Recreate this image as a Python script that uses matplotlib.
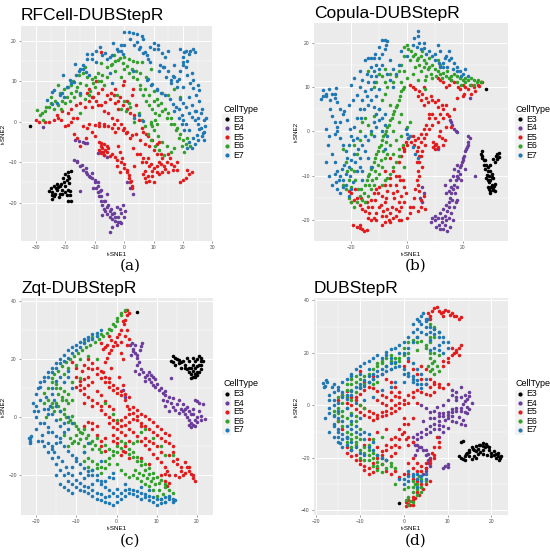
import numpy as np
import matplotlib
matplotlib.use("Agg")
import matplotlib.pyplot as plt
from matplotlib.lines import Line2D
from matplotlib.patches import Rectangle

plt.rcParams['font.family'] = ['Liberation Sans', 'DejaVu Sans']

cell_types = ["E3", "E4", "E5", "E6", "E7"]
colors = {"E3": "#000000", "E4": "#6A3D9A", "E5": "#E31A1C", "E6": "#33A02C", "E7": "#1F78B4"}
titles = ["RFCell-DUBStepR", "Copula-DUBStepR", "Zqt-DUBStepR", "DUBStepR"]
panel_labels = ["(a)", "(b)", "(c)", "(d)"]

# ---------------- Panel (a) ----------------
A_E3 = [(-32.2,-1.2),(-25,-16.5),(-24.5,-17.5),(-24,-16),(-23.5,-18),(-23,-17),(-22.5,-16.2),(-22,-17.8),
        (-21.5,-15.5),(-21,-16.8),(-20.5,-15),(-20,-16),(-19.5,-14.5),(-19,-13.5),(-19,-12.5),(-18.8,-14),
        (-23.8,-18.5),(-24.6,-19.2),(-22.8,-15.3),(-21.8,-16),(-18.5,-17.2),(-18.3,-18.2),(-19,-19.5),
        (-18,-19.5),(-20,-17.3),
        (-24.5,-18.2),(-23.2,-16.5),(-22.2,-18.6),(-21,-17.8),(-20.8,-14),(-20,-13),(-19.5,-18.2),(-19.2,-17),
        (-25.5,-17.2),(-18.8,-15.2),(-18.2,-12.2)]
A_E4 = [(-17,-9.5),(-16,-10),(-15,-11),(-14,-12),(-13,-12.5),(-12,-13.5),(-11,-14),(-10,-15),(-9.5,-16.5),
        (-9,-17.5),(-8.5,-18.5),(-8,-19.5),(-7.5,-20.5),(-7,-21.5),(-6.5,-22),(-6,-22.8),(-5,-23.5),(-4,-24),
        (-3,-24.5),(-2,-23.5),(-1,-22.5),(0,-23.5),(0.2,-22),(-4.9,-27.2),(-16.7,-4.6),(-15.5,-4.8),(-14,-5),
        (-12.8,-5.4),(-27.5,-1.3),(-8,-7.5),(-7,-8.2),(-6,-8.7),(1,-15),(2,-16.5),(3,-18),(-15,-17.2),
        (-13,-11.5),(-11,-12.8),(-9,-15),(-8,-17),(-6.5,-19.5),(-5.5,-20.5),(-4.5,-21.5),(-3.5,-22.5),
        (-2.5,-21),(-7.5,-23),(-2.5,-25.5),(-1.5,-24.8),(-6,-18),(-10.5,-16.5),
        (-16,-9.8),(-14.5,-10.8),(-12.5,-13),(-11.5,-13.8),(-10,-14.5),(-9,-16),(-8.3,-17.2),(-7.8,-18.3),
        (-7,-19.5),(-6,-21),(-5,-22),(-4,-22.8),(-3,-23.5),(-2,-24.8),(-1,-25),(-0.5,-20.5),(-1.5,-21.5),
        (-4,-26),(-13.5,-5.2),(-9,-7.8)]
A_E5 = [(-30,0.5),(-29,0),(-27,-0.2),(-25.5,0),(-24,0.5),(-22.5,1),(-21,2.5),(-19,2),(-20,-1),
        (-18,3),(-16.5,4),(-15,4.5),(-13.5,3.5),(-12,5),(-10.5,6),(-9,7),(-7.5,8),(-6,6.5),(-4.5,7),(-3,8),
        (-11,3.5),(-9,4),(-7,2.5),(-5.5,2),(-4,1),(-2.5,0.5),(-1,-0.5),(0,-1.5),(-14,-1),(-12.5,-1.5),
        (-11,-2.5),(-10,-3.5),(-13,-4),(-8.5,-1),(-7,-0.5),(-5.5,-1),(-4,-1.5),(-3,-2.5),(-8,-6),(-7.5,-6.5),
        (-7,-5.5),(-6.5,-7),(-6,-6),(-8.5,-7),(-5,-8.5),(-4,-8),(-3,-8.8),(-2.5,-9.5),(-1,-10),(0,-11.5),
        (1,-12.5),(1.5,-14),(2,-15),(2.5,-16.5),(-15,-6),(-16,-4),(-17,-3),
        (2,2),(3.5,1.5),(5,0.5),(6,-1.5),(4,-3),(5.5,-4.5),(7,-5.5),(8.5,-6),(10,-7),(11,-8),(8,-9),(9,-10.5),
        (10,-11.5),(11,-12.5),(12,-10),(13.5,-11),(14.5,-10),(15.5,-9),(16,-10.5),(17,-11),(18,-12),
        (6.5,-13),(7,-14),(7.5,-15),(8.5,-14.8),(9.5,-13.5),(10,-15),(12,-13),(13,-12.5),(19,-15),
        (20,-14.5),(21,-14),(22,-13),(23,-12.5),(21.5,-12),(3,-6.5),(2,-4),(0.5,-2.8),(-2,3),(-3,4.5),
        (1,5),(2.5,6.5),(-0.5,9),(-1.5,6),(4,4),(3,8),(-7.9,17.2),(0,10),(-18,0),(-16,1),(-9.5,10),
        (-12,8),(4.5,-8),(6,-10),(3.5,-11),(12.5,-8),(7.5,-3),
        (-23,1.6),(-21.5,0.5),(-19,-0.8),(-17.5,0.8),(-12.5,7),(-11,6),(-9.5,5.2),(-8,4),(-6.5,4.8),(-5,5.5),
        (-3.5,6.5),(-2,5),(-0.5,4),(1,3),(-12,-0.5),(-10,-0.8),(-8.5,-0.3),(-7,-1.2),(-8.7,-5),(-7.8,-5.3),
        (-7.2,-7.5),(-6,-7.6),(-5.5,-6.5),(-6.8,-8.2),(-8,-7.8),(-2,-6),(-1.5,-7.5),(-0.8,-9),(0,-10.5),
        (0.8,-12),(1.5,-13.2),(2.2,-14.8),(2.8,-16),(-2.5,-11),(-1.5,-12.5),(5.5,-8),(6.5,-9),(7.5,-10),
        (8.5,-11),(9.5,-12.2),(11,-11),(12.5,-10.5),(14,-11.8),(15,-12.5),(16.5,-12),(18,-10),(7,-12.2),
        (8,-13.5),(13,-9),(15,-8),(6.5,-2.5),(8,-3.5),(9.5,-4.5),(11,-5.5),(12,-5),(-3.5,-0.5),(-2,-1.5),
        (-0.5,-2),(1,-2.5),(2.5,-3.2)]
A_E6 = [(-29.7,2.8),(-28,2),(-26.5,3.5),(-25,4.5),(-27.5,0.5),(-25,6),(-23.5,5),(-22,7),(-20.5,8),(-19,8.5),
        (-18,7),(-17,6),(-16,8.5),(-15,9.5),(-20,4.5),(-21.5,3),(-15.5,11.5),(-14,12),(-12.5,11),(-11,10.5),
        (-10,11),(-9,12),(-8,10),(-7,9),(-10,8.5),(-11.5,7.5),(-13,9),(-6,13.5),(-4.5,14),(-3,15),(-1.5,15.7),
        (0,16),(1.5,15.5),(3,15),(4.5,14.8),(6,14.7),(0,13),(1.5,12),(3,11),(4.5,10.5),(-1,11),(-3,12.5),
        (5.5,8),(6.5,6.5),(7.5,5),(8.5,4),(9.5,3),(10.5,2),(11,5.5),(12.5,4.5),(14,3),(15,2),(16,1),(17,-0.5),
        (18,-1.5),(19,-3),(20,-4.5),(21,-5.5),(13,7),(15,6.5),(17,8),(19,6),(10,7.5),(11,-0.5),(10,-2),
        (11.5,-3.5),(13,-5),(14.5,-6),(16,-7.5),(17,-6.5),(5,2),(6,0.5),(3.5,0),(9,0),(9.5,-1),(-2.5,6.5),
        (0,5),(1.5,4.5),(-15,2),(-17.5,10),(-13.5,13.5),(-8,14.5),(7.5,11),(9,13),(-22.5,9),
        (-18,9),(-16.5,7.5),(-15,6.5),(-13.5,5.5),(-12,6.5),(-10.5,9.5),(-9,10),(-7.5,11.5),(-6,11),
        (-28.5,1.5),(-27,2.5),(-25.5,3.5),(-24,3),(-22.5,4),(-21,5),(-19.5,6),(-18.5,5),(-3.5,16.5),
        (-2,15.2),(-0.5,14.5),(1,13.8),(2.5,13),(4,12.5),(5.5,12),(-4,14.2),(5.5,9),(7,8),(8.5,6.5),(10,5),
        (11.5,4),(13,2.5),(14.5,1),(16,-0.5),(17.5,-2),(12,1.5),(10.5,0.5),(9,-0.5),(7,-1),(8,-3),(9,-4.5),
        (10.5,-6),(12,-7),(13.5,-8.2),(18.5,-4),(19.5,-6),(20.5,-7.5),(21.5,-4),(22.5,-6),(-1,3),(0.5,2.5),
        (2,3.5)]
A_E7 = [(3,21.8),(4.5,21.7),(6,21.2),(6.5,20.3),(4.2,19.7),(5.5,18.5),(7,17.2),(7.6,16.5),(8.7,18.5),(10,18),
        (11.5,17.8),(13,17),(14,16),(-3.7,19.3),(-2.5,18),(-1,17.5),(-0.3,16.8),(-8.2,18.4),(-6.5,17),(-5,16),
        (-12.8,16.8),(-11,15.5),(-9.5,14.8),(-16.7,14.3),(-15,13),(-13,12.3),(-20.7,11.5),(-18.5,10.3),
        (-17,9.8),(-24,7.7),(-22,6.5),(-20.5,6),(-26.3,5.3),(-24.5,4.3),(-14,13),(-12,11.5),(19,18),(21,17.5),
        (22.5,17.5),(24,17.3),(20,16),(21.5,15),(20,14),(19,12.5),(13.2,13.5),(15,12.5),(17,11),(18.8,10.5),
        (16,10.3),(14.3,11),(16,9.5),(18,8.5),(20,8.6),(23.4,10.2),(25,9),(25.6,7.8),(7.6,10.2),(9,9),(11,8),
        (12.5,7),(14,6.5),(15.5,5.5),(16.5,4.3),(17.5,3.5),(19,5.5),(20,4.5),(21,3.5),(22,2),(23,1.2),
        (24,0.5),(25,-0.5),(26,-1.5),(27,-2.5),(26.5,-3.5),(25,-4.5),(24,-5.5),(23,-6.5),(22,-2),(21,-0.5),
        (20,0.5),(19.5,1.5),(18.5,3),(24.5,2.5),(26,2),(27,0.5),(25.5,-1.8),(27,-4.6),(3,12.5),(-5,12),
        (-4,9.5),(-15,7),(-24.6,7.3),(0,19),(2,20.5),(17,14),(23,12),(12,12.5),
        (0,22),(1.5,22.2),(3.2,18.9),(5,18),(6.5,17),(8,15.5),(8.8,14.8),(10,19.3),(11.5,19),(14.8,17.5),
        (20.5,17.2),(22,16.8),(23.5,17.8),(20,14.8),(21,13.5),(12.2,14),(13.5,13.5),(16.5,11.2),(17.8,9.9),
        (21.5,11.5),(22.5,9.5),(23.5,8.2),(24.5,6.5),(25.5,5),(26.5,3.2),(22,6),(23,4),(24,2.5),(25,1),
        (27.5,-1),(27.8,0.8),(26.8,-2.8),(24.8,-3.2),(23.5,-4),(22.2,-5),(21.5,-6.5),(8,10.5),(9.5,9.2),
        (11,7.8),(17,2.5),(18.5,1),(19.5,-0.5),(20.5,-2),(-23,4.5),(-21,7),(-19.5,8.5),(-18,9.5),(-16.5,11.5),
        (-15.5,12.5),(-14,14),(-12.5,15.5),(-11,16.8),(-9.5,17.5),(-7.5,16.5),(-6,15.5),(-4,16.5),(-2,17.5),
        (-1,19),(3.5,0.8),(5,1.5),(6.5,0.2)]

# ---------------- Panel (b) ----------------
B_E3 = [(26.5,-5),(27,-6),(27.5,-7.5),(28,-8.5),(29,-9),(29.5,-10),(30,-11),(30.5,-12),(31,-13),(30,-13.5),
        (29,-12.5),(29.5,-11.5),(31,-10.5),(31.5,-11.8),(28.5,-10.5),(30,-7.5),(31,-6.3),(32,-5.5),(33,-4.8),
        (32.5,-6.2),(28,-6.5),(27,-5.5),(31.5,-13.5),(28.4,9.5),(30.5,-9.5),(29.5,-13),
        (26.8,-4.5),(27.5,-6.5),(28.5,-7.5),(29,-8),(29.8,-9),(30.5,-10.3),(31.2,-12.2),(30.8,-13.2),
        (30.2,-12.5),(29.2,-11),(28.8,-9.8),(31.8,-7),(32.5,-5),(33.2,-5.8),(30,-14)]
B_E4 = [(22.5,-1.5),(22,-2.5),(21.5,-3.5),(21,-4.5),(20.5,-5.5),(20,-6.5),(19.5,-7.5),(19,-8),(18.5,-9),
        (18,-10),(17.5,-11),(17,-12),(16.5,-13),(16,-14),(15.5,-15),(15,-16),(14,-16.5),(13,-17.5),(12,-18.5),
        (11,-19.5),(10,-20),(9,-19.5),(12.5,-20.5),(13.5,-21),(14.5,-22.5),(15.5,-21.5),(16.5,-20),(17,-17),
        (18,-15.5),(19.5,-11),(21,-8.5),(15.5,-11),(16.5,-10),(17,-8.5),(15,-13.5),(14,-14),(13.5,-12),
        (24.5,-10),(15.5,2.5),(16.3,1.5),(17,0.5),(18,-0.2),(22.7,7.4),(11.3,-3.9),(5.5,-12.5),(6,-14),
        (5.3,-16),(4.8,-15),(10.5,-21.5),(12,-22),
        (21.8,-3),(21.2,-4),(20.2,-6),(19.8,-7),(19,-9.5),(18.5,-10.5),(17.8,-12.5),(17.2,-14),(16.2,-15.5),
        (15.2,-17),(14.5,-18),(13.5,-19),(12.5,-19.5),(11.5,-21),(13,-22),(14,-20),(16,-18.5),(17.5,-16),
        (15,-19.5),(16,-12.5),(18,-7.5),(10,-19),(8.5,-20.5),(15.8,2),(17.5,0),(22,-1)]
B_E5 = [(11,12),(13,11),(15,10.5),(17,11),(18.5,10),(20,10.5),(22,9.5),(24,10),(25.5,10.5),(27,11),(26,10.2),
        (23,8.5),(1,10.5),(3,9.5),(4.5,9),(6,10),(5,7),(7,7.5),(8.5,8),(10,6.5),(11,5.5),(12,4),(13,5),(14,6),
        (14.5,4),(10,3),(9,1.5),(8,0.5),(7,-0.5),(6,-1.5),(5,-2.5),(4,-3.5),(3.5,-4.5),(2.5,-3),(1.5,-2.5),
        (0.5,-1.5),(-0.5,-2.5),(-1.5,-3.5),(11,2),(12,0),(12.5,-1.5),(13,-3),(10,-3),(9.5,-3.5),(10.5,-2.8),
        (16,1),(15,3.5),(17,5),(-21,-13.5),(-20,-14),(-19,-15.5),(-18,-15),(-17,-16.5),(-16,-17.5),(-15,-18),
        (-14,-17),(-13,-15.5),(-12,-14),(-11,-13),(-10,-12.5),(-9,-14.5),(-8,-16),(-7,-17.5),(-6,-18.5),
        (-5,-19.5),(-4,-19),(-3,-18),(-2,-17),(-1,-16),(-0.5,-14),(-1,-12.5),(-2.5,-11),(-4,-10),(-5,-9),
        (-3,-7),(-2,-5.5),(-1,-4.5),(-6,-12),(-7,-13.5),(-10,-17),(-11,-18.5),(-12,-19.5),(-9,-19),(-8,-20.5),
        (-13,-20),(-4.5,-15),(-3.5,-13.5),(-2,-20),(0,-19.5),(1,-18.5),(2,-17),(2.5,-15),(3,-13),(3.5,-11),
        (4,-9),(4.5,-7),(5,-5.5),(4.5,-13.5),(5,-15.5),(5,-17),(-19.5,-21),(-18,-21.5),(-17,-21),(-16,-22),
        (-15.5,-22.5),(-14.5,-22.3),(-17,-21.8),(20,8),(18,7.5),(8,4),(-6,-6),(-8,-9),
        (12,11.5),(14,10),(16,11.5),(19,9.5),(21,10),(23,10.5),(24.5,9),(26.5,11.2),(20.5,8.5),(2,10),(4,8),
        (5.5,8.5),(6,6),(7.5,6.5),(9,7),(11,7),(12.5,6),(8,3),(9,4),(7,1.5),(6,0.5),(5,-0.5),(4,-1.5),(3,-2),
        (2,-1),(0,-3),(-1,-4),(13.5,-2),(11.5,-1),(14,1),(13,3),(9.5,-2.5),(10,-4),(11,-3.5),(6.5,-3),
        (5.5,-4.5),(4.5,-5.5),(3.5,-7),(-16.5,-15),(-14.5,-16),(-13.5,-18.5),(-12.5,-17),(-11.5,-15.5),
        (-10.5,-14),(-9.5,-16.5),(-8.5,-18),(-7.5,-19),(-6.5,-20),(-5.5,-17),(-4,-17.5),(-3,-16),(-2,-14.5),
        (-1.5,-11),(-3,-10),(-4,-12),(-5,-14),(-7.5,-15),(-6,-10.5),(-8,-12),(-18.5,-13),(-20,-16),
        (-14,-19.5),(-11,-20),(-9,-21),(-6,-20.5),(-3,-20),(1,-17),(3.8,-12),(4.2,-10),(5.5,-8),(6,-14.5),
        (6.5,-17.5),(4,-18)]
B_E6 = [(0,19.5),(1.5,18),(3,17.5),(4,16.5),(5,17),(6,16),(7,15.5),(8,14.5),(9,15),(10,14),(11,13.5),(12,13),
        (13,13.2),(14,12.5),(15,12),(16,12.5),(17,13),(18,12.5),(19,12),(20,11.5),(21,11),(22,11.5),(23,12),
        (24,11.5),(25,11),(3,14.5),(2,13),(5,13.5),(7,12.5),(9,12),(1,16),(-1,17),(-2,15),(-3,13.5),(-4,12.5),
        (-5,11),(6.5,9.5),(4,11.5),(0,12),(-17,-14.5),(-16,-15.5),(-15,-12),(-14,-10),(-13,-8.5),(-12,-7),
        (-11,-5),(-10,-3.5),(-9,-2),(-8,-0.5),(-7,1),(-6,2.5),(-5,4),(-4,5.5),(-3,7),(-2,9),(-1,10),(-6,-3),
        (-7,-5),(-8,-6),(-9,-8),(-10,-9.5),(-11,-10.5),(-12,-12),(-13,-13),(-14,-14.5),(-5,-5),(-4,-7),
        (-3,-4),(-2,-1),(0,1),(1,2),(-17,0),(-16,2),(-15,3),(-14,1.5),(-13,-0.5),(-12,3.5),(-10,5),(-9,7),
        (-8,8.5),(-7,10),(-10,13),(-8,14),(-6,13),(-11,11),(-19,-9),(-21,-11),(-20,-12.5),(-22,-7),(-18,-5),
        (-19,-3),(-23,-12),(-21,-15),(-20,-16),(-19,-17),(-8,-11),(-6,-9.5),(-1,-8),
        (-1,19),(0.5,18.5),(2,17),(3.5,16),(4.5,15),(6,14.5),(7.5,14),(8.5,13),(10.5,12.5),(12.5,12),
        (14.5,13.5),(16,11.5),(18,11),(19.5,10.5),(21,12),(22.5,10.5),(24,10.5),(25.5,11.5),(26.5,11),
        (11,16),(12,15),(8,16.5),(5.5,18),(6.5,11.5),(-2,11),(-1,13.5),(-16.5,-13),(-15.5,-14),(-14.5,-11),
        (-13.5,-9.5),(-12.5,-8),(-11.5,-6),(-10.5,-4.5),(-9.5,-3),(-8.5,-1),(-7.5,0),(-6.5,1.5),(-5.5,3),
        (-4.5,4.5),(-3.5,6),(-2.5,8),(-1.5,9.5),(-7.5,-2.5),(-8.5,-4.5),(-9.5,-6.5),(-10.5,-7.5),(-11.5,-9),
        (-12.5,-11),(-13.5,-12),(-15,-16),(-18,-16),(-17.5,-13),(-9,-12),(-7,-10.5),(-5,-8),(-3,-5.5),
        (-1.5,-3),(-4,-2),(-5,0),(-6,6),(-8,11),(-9,12.5),(-12,10),(-14,13.5),(-3,2),(-2,4),(-23,-4),
        (-21.5,-9),(-20,-8.5),(-18.5,-11),(-22,-13),(-17,-2)]
B_E7 = [(-31,7.3),(-30,8),(-29,8.5),(-28,9.5),(-27,8.5),(-26,7.5),(-25,6.5),(-24,5),(-23,4),(-24,2),(-25,1),
        (-26,-0.5),(-28,-1),(-29,0.5),(-28.5,-3),(-27,-5),(-26,-7),(-25,-9),(-24,-10),(-23,-11),(-22,-9.5),
        (-21,-8),(-20,-6.5),(-19,-5),(-23,-12.5),(-24,-14),(-25,-13),(-27,-12),(-28,-10),(-29,-7),(-21,-3),
        (-20,-1),(-19,1),(-18,3),(-17,5),(-16,7),(-15,9),(-14,11),(-13,12.5),(-12,13.5),(-11,15),(-10,16.5),
        (-9,17.5),(-8,18.5),(-7,20.3),(-8,20.5),(-14,16.5),(-15,16),(-13,16.5),(-16,-3),(-17,-6),(-18,-9),
        (-16,-9),(-14,-6),(-15,-1),(-13,0),(-12,2),(-11,4),(-10,5),(-9,3),(-12,5.5),(-13,7),(-8,4),(-7,-1),
        (-8,-4),(-19,12),(-20,10.5),(-17,13.5),(-5,14),(-4,13),(-3,15),(-6,16),(1,-1),(0,-0.5),(2,-3.5),
        (3,-5),(4,-6),(4,21.5),(4.5,20),(5,18.5),(6,20),(8,18),(10,17.5),(11,19.5),(12,18),(14,17),(15,16),
        (16,16.5),(17,15.5),(18,14.5),(19,13.5),(20,13),(21,14),(22,12.5),(12,14.5),(13,15.5),(-2,18),(0,17),
        (2,19.5),
        (-30,9.2),(-29,8),(-27.5,7),(-26,8.5),(-25.5,9.8),(-27.8,5),(-27,3.5),(-26,2),(-25,0),(-24,-1.5),
        (-23,-3),(-22,-4.5),(-21.5,-6),(-22.5,-7.5),(-23.5,-8.5),(-24.5,-11),(-25.5,-11.5),(-26,-9.5),
        (-22,-12),(-20.5,-10),(-19.5,-11.5),(-20,-13),(-21,-14.5),(-18.5,-7),(-17.5,-4),(-18,-1.5),
        (-19.5,-2),(-20.5,0.5),(-21.5,2.5),(-22.5,4.5),(-21,6),(-19.5,7),(-18,8.2),(-17,10),(-16,11.5),
        (-14.5,13),(-13,14.5),(-12,16.5),(-11.5,17.5),(-10,19),(-9,20.5),(-7.5,19.5),(-16.5,3),(-15.5,5),
        (-14,6),(-14.5,8),(-13,9.5),(-12,11),(-11,12.5),(-10,14),(-9,15),(-7,13),(-6,11.5),(-5,10),(-11,8),
        (-10,9.5),(-12,-1),(-11,1),(-10,2.5),(-9,0),(-8,1.5),(-15,-4.5),(-14,-2),(-13,-8),(-17,-8),(-16,-11),
        (2.5,21),(4,22.5),(3.5,19),(6,18.8),(7,17.5),(9,17),(10,16),(11.5,15.5),(13,14.5),(14.5,14.5),
        (16.5,14),(18,13.5),(19.5,12.5),(15,18),(13.5,16.5),(0.5,-1.5),(-0.5,0.5)]

# ---------------- Panel (c) ----------------
C_E3 = [(13.5,19.5),(14,19),(14.5,18),(15,20),(15.5,18.5),(16,17),(16.5,19.5),(17,18),(17.5,16.5),(18,15.5),
        (18.5,17),(19,16),(19.5,15),(20,14.5),(20.5,15.5),(21,16.5),(21,18),(21.5,19.5),(21,20.5),(20.5,21),
        (20,20),(19.5,19.5),(19,20.5),(18,19.5),(17.5,20.5),(20,17.5),(19,14),(18.5,13.5),(14,21),(5,36.3),
        (14.5,20.5),(15.5,19.8),(16,19),(17,17),(18,16.8),(19,18),(19.5,17),(20.5,18),(21,19.2),(20,15.5),
        (19.5,13.8),(18.5,15)]
C_E4 = [(3.3,24.9),(4,23.5),(4.5,22),(5,20.5),(5.5,19),(6,24.5),(6.2,25.5),(4.5,25),(3.7,21.5),(1.6,9.4),
        (2,7.1),(4.5,16),(5.5,15),(6.5,15.5),(7.5,14.5),(8,13),(8.5,12),(9,11),(9.5,10.5),(10.5,9.5),
        (11.5,8.5),(12,7.5),(7,12.5),(8,15.5),(9,14),(11.5,6),(12.5,5.5),(13.5,5),(14,3.5),(15,4.5),(16,3),
        (16.5,2),(17,1),(17.5,0),(18,-1),(18.5,-2),(19,-2.5),(18,-2.5),(19.5,-1),(20,0),(21,0.5),(22,-0.5),
        (19,3),(20,5.5),(20.5,5),(14.5,2.5),(13,2),(12,4),(18.5,1),(17.5,3.5),(15.5,1.5),(13.5,13.5),
        (3.8,25.5),(4.2,22.8),(5.2,21.5),(5.8,23),(5,18),(6,16.5),(7,14),(8.5,14.5),(9.5,13),(10,11.5),
        (11,10),(12,9),(13,7),(14,6.5),(15.5,6),(16.5,4.5),(17,3),(18,2),(19,1),(20,-1.5),(21,-1),(19.5,-3),
        (18.5,-3.5),(20.5,2),(21.5,4.5),(19.5,5.8)]
C_E5 = [(2,36.5),(2.5,35),(2.2,33.5),(1.8,32),(1,30),(0.5,28.5),(0,27.5),(-0.5,26),(-1,24.5),(-1.5,23),
        (-2,22),(-2.5,20.5),(-3,19),(1,22),(1.5,20),(2.5,25),(3,27),(-4,25.5),(-3.5,23.5),(-8,18),(-7,17),
        (-6,16.5),(-5,15),(-4,13.5),(-3,12),(-2,10.5),(-1,9.5),(0,8.5),(1,7.5),(2,6),(2.5,4),(3,3),(-6,12),
        (-7,11),(-8,10),(-9,9.5),(-5,9),(-4,7.5),(-3,5.5),(-2,4),(-1,3),(-4,2.5),(-6,4),(-8,5),(-9,12.5),
        (-10,14),(-3.5,15.5),(-2,13.5),(-1.5,17),(0.5,14),(1.5,11),(-2,-2),(-1,-3.5),(0,-4),(1,-3),(2,-2.5),
        (3,-1.5),(4,-0.5),(5,0.5),(6,1),(7,0.5),(8,-0.5),(9,-1.5),(10,-3),(11,-4),(12,-5.5),(13,-6),(4,-5),
        (5,-6.5),(6,-8),(7,-9.5),(8,-11),(9,-12.5),(10,-14),(11,-15.5),(12,-17),(12.5,-18.5),(13,-20),
        (12,-22),(12.5,-23.5),(3,-8),(2,-10),(1.5,-11.5),(1,-13),(0,-7),(-1,-6),(2,-6),(6,-14),(8,-16),
        (5,2.5),(4,3.5),(-3,-7),(-4,-8),(6,-3),(14,-10),(-5,-3),(-6,-4),(15,-16),(16,-17),(17,-15.5),
        (17.5,-17),(18,-18.5),(18.5,-19.5),(19,-21),(19.5,-22),(17,-19),(16.5,-20),(15.5,-20.5),(14.5,-20),
        (16,-18.5),(-10,17),(-8.5,16),(-11,19),(-7,-1.5),(-8,-3),
        (-2,28),(-1.5,26.5),(-2.5,25),(-3,24),(0,25),(1,26),(2,28),(2.5,30),(1.5,33),(2.5,37),(3,36),(-7,20),
        (-6,18.5),(-5,17),(-4,16),(-3,14),(-2,12),(-1,11),(0,10),(1,9),(2,8),(3,7),(-7,14),(-8,13),(-9,11),
        (-10,10.5),(-8,8),(-7,7),(-6,6),(-5,5),(-4,4),(-3,1),(-2,0),(-1,-1),(0,-2),(1,-1),(2,0),(3,1),
        (4,1.5),(5,-1),(6,-2),(7,-3),(8,-4),(9,-5),(10,-6),(11,-7),(12,-8),(13,-9),(14,-12),(13,-13),(11,-12),
        (10,-10),(9,-9),(8,-8),(7,-7),(3,-4),(1,-5),(-1,-8),(0,-9),(2,-12),(3,-14),(12,-19.5),(11,-20),
        (13,-22.5),(14,-15),(15,-14.5),(18,-17),(19,-20),(-6,-2),(-5,-6),(-4,-10),(-3,-11.5)]
C_E6 = [(2,37),(1,36),(0,33),(-0.5,31.5),(-1.5,30),(-2.5,29),(-3.5,28),(-4.5,27),(-5.5,26),(-6.5,25),
        (-7.5,24),(-8.5,23),(-9.5,22),(-10.5,21),(-11.5,20),(-12.5,19),(-13.5,17.5),(-14.5,16),(-15.5,15),
        (-16,13.5),(-15,11.5),(-14,10),(-13,9),(-12,8),(-13.5,6),(-14.5,4),(-15.5,2),(-13,3),(-12,5),(-11,6),
        (-13,1),(-14,-0.5),(-12,-1.5),(-11,0.5),(-10,-3),(-9,-5),(-8,-4),(-7,-6),(-6,-8),(-5,-7),(-9,-7.5),
        (-10,-6),(-11,-9),(-12,-10),(-8,-10),(-6,-11),(-4,-12),(-3,-9.5),(-2,-11),(-1,-13),(0,-12),(1,-10.5),
        (-5,-16),(-6,-18),(-4,-19),(-3,-17.5),(-2,-16),(-7,-17),(-8,-15),(0,-16),(1,-18),(2,-19.5),(3,-20.5),
        (4,-20),(5,-21),(6,-22),(7,-23),(8,-23.5),(9,-25),(10,-27),(11,-28),(12,-29),(13,-27.5),(12,-24),
        (10.5,-22.5),(9,-21),(8,-19.5),(7,-18),(6,-16.5),(5,-15),(4,-13.5),(3,-12.5),(4,-9),(5,-8),(6,-5),
        (7,-4),(9,-7),(11,-10),(12,-13),(14,-13),(-3,5),(-1,1),(0,-1),(-18,8.5),(-17,10),(-16,5),(-17.5,0),
        (-13,-6),(-7,21),(-5,20),(-9,13.5),(-11,12),
        (-16,12),(-15,10),(-14.5,8),(-13.5,7),(-12.5,6),(-15,5),(-16,3.5),(-14,2),(-12.5,0),(-11.5,-1),
        (-10.5,-2),(-9.5,-4),(-8.5,-5.5),(-7.5,-7),(-6.5,-9),(-5.5,-9.5),(-4.5,-11),(-9.5,-9),(-10.5,-8),
        (-11.5,-7),(-8,-12),(-7,-14),(-6,-15),(-5,-17.5),(-4,-17),(-3,-15),(-2,-14),(-1,-11.5),(0,-10),(1,-8),
        (2,-9),(3,-11),(4,-12),(5,-13.5),(6,-15),(7,-16),(8,-17.5),(9,-19),(10,-20.5),(11,-21.5),(12,-23),
        (13,-25),(14,-26),(11.5,-26.5),(10.5,-25),(9.5,-23),(8.5,-22),(7.5,-21),(6.5,-20),(5.5,-19),
        (4.5,-18),(-8,26),(-6,27.5),(-4,28.5),(-2,30.5),(-1,32),(0,34),(1,35),(-9,20),(-10,18),(-12,17),
        (-13,15),(-17,6),(-18,5)]
C_E7 = [(-4,30),(-5,29),(-6,28.5),(-7,27.5),(-8,27),(-9,26),(-10,25),(-11,24),(-12,23),(-13,21.5),(-14,20),
        (-15,18.5),(-16,17),(-17,15.5),(-18,14),(-19,12),(-19.5,10),(-20,8),(-19,6),(-20,4),(-19.5,2),(-20,0),
        (-19,-2),(-20,-4),(-18.5,-6),(-19.5,-8),(-21.5,-7),(-21.5,-9),(-18,-10),(-17,-12),(-16,-14),(-15,-16),
        (-14,-18),(-13,-20),(-12,-22),(-11,-23),(-10,-24),(-9,-25),(-8,-25.5),(-7,-26),(-6,-27),(-5,-28),
        (-4,-28.5),(-3,-29),(-2,-29.5),(-1,-30),(0,-29),(1,-28),(2,-27),(3,-26),(4,-26.5),(5,-27),(6,-28),
        (7,-27.5),(8,-28.5),(9,-29),(10,-30),(11,-29.5),(12,-29),(13,-28),(14,-29),(-16,-11),(-15,-9),
        (-14,-7),(-13,-5),(-12,-4),(-11,-2),(-17,3),(-16,1),(-15,-1),(-14,-3),(-16,8),(-14,14),(-12,16),
        (-13,12),(-10,-15),(-11,-17),(-9,-19),(-8,-21),(-7,-20),(-6,-18),(-5,-20),(-4,-22),(-3,-24),(-2,-25),
        (0,-24.5),(2,-23),(-1,-21),(-6,-23),(-12,-25),(-11,-26),(-13,-24),(8,-25),(6,-24),(-17,-5),(-15,-20),
        (-14,-23),(-7,-9),(-8,-12),(-4,-15),
        (-21.8,-7),(-21.5,-8.3),(-21.2,-6.3),(-20.5,2),(-20.8,5),(-19,10.5),(-18,12.5),(-17,14),(-16,15.5),
        (-15,17),(-14,18.5),(-13,19.5),(-12,20.5),(-11,22),(-10,23),(-9,24),(-8,25.5),(-7,26.5),(-6,27),
        (-5,28),(-17.5,7),(-16.5,4),(-15.5,6),(-18,3),(-17,1),(-18,-2),(-17,-3.5),(-16,-5),(-15,-6.5),
        (-14,-8.5),(-13,-10),(-12,-11.5),(-11,-13),(-10,-14),(-9,-16),(-8,-17.5),(-7,-18.5),(-6,-20),
        (-5,-21.5),(-4,-23),(-3,-22),(-2,-20.5),(-1,-19),(-18.5,-8),(-17,-9),(-16,-10),(-15.5,-12),
        (-14.5,-13.5),(-13.5,-15),(-12.5,-17),(-12,-19),(-11,-20),(-10,-21.5),(-9,-22.5),(-8,-23.5),(-7,-24),
        (-6,-25),(-5,-26),(-4,-26.5),(-3,-27.5),(-2,-27),(-1,-26),(0,-27),(1,-26),(2,-25),(3,-24.5),(4,-25),
        (5,-25.5),(6,-26),(7,-26.5),(8,-27),(9,-27.5),(10,-28),(11,-28),(12,-27.5),(13,-27),(14,-28),
        (14.5,-28.5),(-13,-2),(-12,0),(-14,2),(-15,4),(-16,10),(-15,12.5),(-12,14),(-11,10)]

# ---------------- Panel (d) ----------------
D_E3 = [(13.5,-20.5),(14,-19.5),(14.5,-18),(15,-17),(15.5,-16),(16,-17),(16.5,-15.5),(17,-16.5),(17.5,-15),
        (18,-14.5),(18.5,-16),(19,-15.5),(19.5,-17),(20,-18),(20.5,-17.5),(21,-18.5),(21.5,-19.5),(22,-20),
        (21,-20),(20,-19.5),(19,-19),(18,-18.5),(17,-18.5),(16,-19.5),(15,-19.5),(13,-20),(12.5,-19.5),
        (13.5,-13.5),(18,-17),(17.5,-17.8),(-1,-37.3),
        (13,-13.8),(14.2,-18.5),(14.8,-17.8),(15.8,-16.5),(16.5,-17.5),(17.2,-15.2),(18.2,-15.5),(18.8,-14.8),
        (19.5,-16),(20.5,-19),(21.5,-18.2),(22.2,-19.5),(21.8,-20.8),(16.5,-20),(15.5,-20.5),(14,-20.8)]
D_E4 = [(4,0),(5,-1),(6,-2.5),(7,-2),(8,-3),(9,-4),(10,-3.5),(11,-2.5),(12,-2),(13,-1),(13.5,0.5),(14,1.5),
        (14.5,-0.5),(15,-1.5),(14,-2.5),(13.5,-5.5),(12.5,-4.5),(11,-4),(9.5,-5.5),(8,-6),(7,-7),(6,-8),(5,-9),
        (4,-10),(3,-11),(2,-12),(2,-14),(3,-15),(4,-16),(5,-17),(5.5,-18.5),(6,-20),(5.5,-22),(5,-24),
        (4.5,-26),(3,-17),(2.5,-19),(8,-9),(9,-10),(10,-8.5),(9.5,-23),(10,-22.5),(8,-12),(12,3),(11,6),(13,7),
        (14.5,2.5),(15,5),(10,2),(6,-5),(4.5,-6),(9,0),(7.5,-0.5),(14,-7.5),
        (12,2),(13,3),(14,4),(15,3.5),(15.5,1),(13,-2),(12,-1),(11,-1.5),(10,-2.5),(9,-3),(8,-4),(7,-5),
        (10,-5),(11,-6),(12,-6.5),(13,-7),(7,-9),(6,-10),(5,-11),(4,-12),(3,-13),(2.5,-15),(3.5,-16),
        (4.5,-17),(5,-19),(5.5,-21),(6,-23),(5,-25),(10,-23.5),(9,-24),(11,4),(12,5),(14.5,-3),(8,-7.5),(9,-8)]
D_E5 = [(7,37),(8,36),(9,35.5),(10,36),(11,35),(12,34),(13,33.5),(9,34),(6,33),(5.5,35),(11.5,20),(12,21),
        (12.5,19),(13,23),(10,16.5),(9,15),(0,15),(1,17),(2,14),(3,12),(4,10),(5,8),(6,7),(7,8),(8,7),(9,6.5),
        (10,8),(4,5),(5,4.5),(6,4),(7,5),(2,3),(1,1),(0,0.5),(-1,-1),(-2,-2),(-3,-3),(-4,-3.5),(-5,-4),(-6,-5),
        (-7,-5.5),(-8,-4.5),(-9,-3.5),(-10,-2.5),(-11,-1.5),(-12,0),(-13,1),(-11,3),(-10,4.5),(-9,6),(-8,7),
        (-7,6.5),(-6,5.5),(-5,4),(-4,3),(-3,2),(-2,3.5),(-1,5),(-5,12),(-4,10),(-3,9),(-7,11),(-9,9),(-12,10),
        (-10,13),(0,-5),(0,-7),(-1,-9),(-0.5,-11),(0.5,-13),(1,-15),(-1,-16),(-2,-18),(-3,-19.5),(-4,-21),
        (-5,-22.5),(-6,-24),(-7,-25.5),(-8,-26),(-9,-24.5),(-10,-22.5),(-11,-21),(-12,-19.5),(-13,-18),
        (-6,-16),(-5,-17.5),(-4,-15),(-3,-13),(-2,-12),(-4,-9),(-6,-10),(-8,-13),(-9,-15),(1,-22),(2,-24),
        (3,-25),(4,-25),(5,-24),(6,-22),(7,-20),(6.5,-18),(7,-16),(8,-14),(3,-28),(4,-30),(4.5,-32),
        (3.5,-34),(2,-36),(1,-37.5),(1.5,-38),(0.5,-37),(2.5,-35.5),(6,-29),(-1,-27.5),(0,-26),(-14,-9),
        (-15,-6),(-14,4),(-13,5.5),(-15,2),
        (6.5,36),(7.5,37.5),(8.5,35),(9.5,36.5),(10.5,34.5),(11.5,34),(12.5,33),(6,34),(10,18),(11,19),
        (12,20.5),(11,22),(12.5,22),(9,17),(4,15),(5,14),(6,10),(7,9),(8,8),(3,6),(2,5),(1,4),(0,2),(-1,1),
        (-2,0),(-3,-1),(-4,-2),(-5,-2.5),(-6,-3.5),(-7,-3),(-8,-2),(-9,-1),(-10,0),(-11,2),(-12,3),(-6,2),
        (-5,1),(-4,0),(-3,5),(-2,7),(-1,3),(3,1),(2,-5),(1,-7),(0,-10),(1,-12),(2,-14),(-2,-15),(-1,-13),
        (-3,-16),(-4,-17),(-5,-19),(-6,-20),(-7,-22),(-8,-24),(-9,-23),(-10,-21),(-11,-19),(-12,-17),
        (-13,-16),(2,-20),(3,-22),(4,-23),(5,-22),(6,-21),(7,-19),(8,-16),(7.5,-12),(1,-26),(2,-28),(3,-29),
        (4,-31),(3,-33),(2,-35),(1,-36),(0.5,-38.5),(2,-38),(5,-30),(-2,-25),(-3,-26),(-4,-25)]
D_E6 = [(-15,-3),(-16,-3.5),(-14,-2),(-13,-1),(-12,-3),(-11,-4),(-15,-6),(-14,-8),(-13,-10),(-12,-11),
        (-11,-12),(-10,-13),(-13,-14),(-12,-16),(-11,-15),(-10,-17),(-9,-18),(-8,-19),(-7,-20),(-6,-21.5),
        (-5,-22.5),(-4,-24),(-3,-23),(-7,-23),(-6,-24.5),(-5,-25.5),(-9,-21),(-10,-20),(-14,4),(-13,6),(-12,8),
        (-11,9),(-10,10),(-9,11),(-8,12),(-13,8),(-11,11),(-14,1),(-12,2),(-10,0),(-9,-1),(-6,16),(-5,17),
        (-4,18),(-3,19),(-2,18),(-1,17),(-4,15),(-3,14),(0,22),(1,24),(3,26),(4,24.5),(5,23),(6,24),(7,26),
        (8,28),(7,30),(6,31),(5,22),(6,18),(7,17),(7.5,15),(6.5,14),(6,13),(3,21),(2,-29),(3,-30),(4,-31),
        (3,-32),(2,-33),(1,-35),(0.5,-36),(2,-37),(1,-38),(4,-28),(5,-29),(3.5,-27),(-2,-30),(1,-31),(-8,-15),
        (-7,-13),(-5,-12),(-6,9),(-7,10),
        (-16,-2),(-15,-1),(-14,-4),(-13,-5),(-12,-7),(-11,-6),(-10,-9),(-13,-12),(-12,-13),(-11,-14),
        (-9,-16),(-8,-17),(-7,-18),(-6,-19),(-5,-20),(-4,-21),(-3,-22),(-2,-24),(-6,-23),(-8,-21),(-12,6),
        (-11,5),(-10,7),(-9,8),(-8,9),(-7,8),(-12,10),(-13,3),(-15,3),(-7,14),(-6,15),(-5,16),(-2,16),(-1,18),
        (0,19),(1,20),(-3,17),(6,20),(7,20),(8,19),(6.5,16),(5.5,15),(7,12),(8,13),(2,25),(3,24),(6,26),
        (7,29),(2,-31),(3,-34),(1.5,-36.5),(4,-33),(2.5,-30),(0,-32)]
D_E7 = [(-18,7.5),(-18.5,8.5),(-17.5,9),(-16,8),(-15,7),(-14,5),(-13,4),(-12,5.5),(-11,7),(-10,8),(-9,9.5),
        (-8,11),(-7,12),(-6,13),(-5,14),(-4,15),(-3,16),(-2,16.5),(-1,15),(0,14),(1,12.5),(2,11),(3,9.5),(4,8),
        (-11,14),(-10,15),(-9,16),(-12,12),(-13,10),(-8,17),(-7,18),(-6,19),(-4,20.5),(-3,21.5),(-2,22),
        (-1,23),(0,24),(1,26),(2,28),(3,29),(4,31),(5,32),(4,34),(5,33),(3,33),(2,31),(6,28),(7,27),(8,26),
        (9,24),(10,22),(9,20),(8,21),(7,22),(6,21),(-16,2),(-17,-1),(-16,-4),(-15,-5),(-16,-7),(-17,-10),
        (-16,-12),(-15,-14),(-14,-13),(-13,-12),(-12,-9),(-11,-8),(-14,-16),(-13,-15),(-12,-17),(-14,-6),
        (-15,-9),(-10,-11),(-9,-13),(-8,-16),(-7,-17),(-6,-19),(-5,-20),(-4,-21),(-17,4),(-15,1),(-13,-1),
        (-12,-3.5),(2,-27),(3,-26),(4,-27),(5,-26),(1,-29),(0,-28),(-1,-28),(1,-25),(4,-29),(3,-31),(2,10),
        (0,9),(-2,9),(-3,7),(-5,6),(-7,3),(-9,2),(-11,1),
        (-18.2,7),(-17.8,9.5),(-16.5,7),(-15,6),(-14,3),(-13,2.5),(-12,4),(-10,6.5),(-9,7.5),(-8,9),(-7,10),
        (-6,11),(-5,12),(-4,13),(-3,14),(-2,14.5),(0,12),(1,11),(2,9),(3,8),(4,6.5),(5,8),(5,10),(4,12),(3,14),
        (2,16),(1,18),(0,20),(1,22),(2,24),(3,26),(4,28),(5,30),(3.5,32),(4.5,35),(5.5,33),(6,30),(7,29),
        (8,28),(9,26),(10,24),(8,23),(6,25),(5,27),(-5,18),(-4,19),(-3,18),(-1,20),(-8,14),(-10,12),(-12,11),
        (-14,9),(-16,5),(-17,2),(-16,0),(-15,-2),(-17,-3),(-18,-5),(-16,-8),(-15,-10),(-14,-11),(-13,-12.5),
        (-12,-14),(-11,-16),(-10,-18),(-9,-19),(-15,-12),(-14.5,-14.5),(-11,-10),(-9,-10),(-8,-11),(-7,-14),
        (-13,-8),(-12,-6),(-10,-5),(2,-26),(3,-28),(5,-28),(0,-30),(1,-27)]

# axis ranges and ticks per panel
xlims = [(-35.1, 30.2), (-33.4, 36.3), (-23.8, 24.0), (-20.5, 23.8)]
ylims = [(-29.5, 23.6), (-24.7, 24.4), (-33.6, 41.0), (-41.8, 40.9)]
xticks = [[-30, -20, -10, 0, 10, 20, 30], [-20, 0, 20], [-20, -10, 0, 10, 20], [-20, -10, 0, 10, 20]]
yticks = [[-20, -10, 0, 10, 20], [-20, -10, 0, 10, 20], [-20, 0, 20, 40], [-40, -20, 0, 20, 40]]

panels = [
    {"E3": A_E3, "E4": A_E4, "E5": A_E5, "E6": A_E6, "E7": A_E7},
    {"E3": B_E3, "E4": B_E4, "E5": B_E5, "E6": B_E6, "E7": B_E7},
    {"E3": C_E3, "E4": C_E4, "E5": C_E5, "E6": C_E6, "E7": C_E7},
    {"E3": D_E3, "E4": D_E4, "E5": D_E5, "E6": D_E6, "E7": D_E7},
]

W, H = 550, 555
fig = plt.figure(figsize=(5.5, 5.55), dpi=100)
fig.patch.set_facecolor("white")

# pixel boxes: left, top, right, bottom
boxes = [(21, 26, 213, 241), (314, 23, 508, 241), (21, 298, 213, 515), (314, 298, 508, 515)]
title_pos = [(21, 20), (314, 18), (21, 293), (314, 293)]
label_pos = [(130, 270), (416, 270), (130, 545), (416, 545)]
legend_x = [223, 516, 223, 516]
legend_y0 = [109, 109, 384, 384]

for i in range(4):
    l, t, r, b = boxes[i]
    ax = fig.add_axes([l / W, (H - b) / H, (r - l) / W, (b - t) / H])
    ax.set_facecolor("#EBEBEB")
    ax.set_xlim(*xlims[i])
    ax.set_ylim(*ylims[i])
    ax.set_xticks(xticks[i])
    ax.set_yticks(yticks[i])
    xt = xticks[i]
    yt = yticks[i]
    ax.set_xticks([(xt[k] + xt[k + 1]) / 2 for k in range(len(xt) - 1)], minor=True)
    ax.set_yticks([(yt[k] + yt[k + 1]) / 2 for k in range(len(yt) - 1)], minor=True)
    ax.grid(True, which="major", color="white", linewidth=0.7)
    ax.grid(True, which="minor", color="white", linewidth=0.35)
    ax.set_axisbelow(True)
    for s in ax.spines.values():
        s.set_visible(False)
    ax.tick_params(axis="both", which="major", labelsize=3.6, colors="#4D4D4D", length=1.5, width=0.4, pad=1.5)
    ax.tick_params(axis="both", which="minor", length=0)
    ax.set_xlabel("t-SNE1", fontsize=4.5, labelpad=1.5)
    ax.set_ylabel("t-SNE2", fontsize=4.5, labelpad=1.5)
    for ct in cell_types:
        pts = np.array(panels[i][ct])
        ax.scatter(pts[:, 0], pts[:, 1], s=6.5, color=colors[ct], linewidths=0, zorder=3)

    fig.text(title_pos[i][0] / W, (H - title_pos[i][1]) / H, titles[i], fontsize=12.5,
             ha="left", va="baseline", color="black")
    fig.text(label_pos[i][0] / W, (H - label_pos[i][1]) / H, panel_labels[i], fontsize=11,
             family="DejaVu Serif", ha="center", va="baseline")

    # legend
    lx = legend_x[i]
    ly = legend_y0[i]
    fig.text(lx / W, (H - ly) / H, "CellType", fontsize=6.5, ha="left", va="center")
    for k, ct in enumerate(cell_types):
        yy = ly + 10 + k * 9
        fig.add_artist(Rectangle(((lx - 1) / W, (H - yy - 4.5) / H), 9 / W, 9 / H,
                                 transform=fig.transFigure, facecolor="#F2F2F2", edgecolor="none"))
        fig.add_artist(Line2D([(lx + 3.5) / W], [(H - yy) / H], marker="o", markersize=2,
                              color=colors[ct], linestyle="none", transform=fig.transFigure))
        fig.text((lx + 10) / W, (H - yy) / H, ct, fontsize=6.3, ha="left", va="center")

fig.savefig("out.png", dpi=100)
